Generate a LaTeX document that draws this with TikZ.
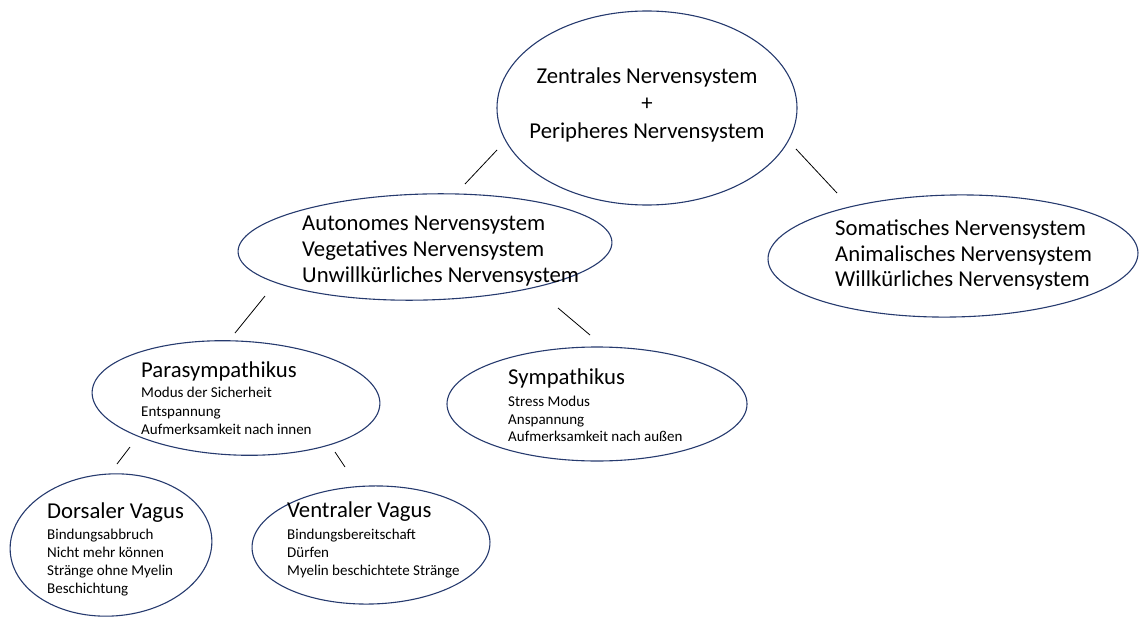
\documentclass[tikz,border=0pt]{standalone}
\usepackage{fontspec}
\setmainfont{Carlito}
\usetikzlibrary{shapes.geometric}
\definecolor{navy}{RGB}{38,58,110}
\begin{document}
\begin{tikzpicture}[x=1pt,y=-1pt,
  ell/.style={draw=navy, line width=1.1pt, ellipse, inner sep=0pt},
  bigtxt/.style={font=\fontsize{22.7}{25.5}\selectfont, align=left, inner sep=0pt, anchor=west},
  smalltxt/.style={font=\fontsize{15}{18}\selectfont, align=left, inner sep=0pt, anchor=west},
  conn/.style={draw=black, line width=0.8pt}]
\useasboundingbox (0,0) rectangle (1140,618);
% ellipses
\node[ell, minimum width=300, minimum height=194] (zns) at (647,108) {};
\node[ell, minimum width=374, minimum height=106, rotate=1.5] (ans) at (425,247) {};
\node[ell, minimum width=370, minimum height=122, rotate=1] (sns) at (953,256) {};
\node[ell, minimum width=288, minimum height=114, rotate=-2.5] (para) at (236,398) {};
\node[ell, minimum width=300, minimum height=114] (sym) at (597,404) {};
\node[ell, minimum width=202, minimum height=142, rotate=4] (dors) at (111,545) {};
\node[ell, minimum width=238, minimum height=118, rotate=1.5] (vent) at (371,545) {};
% texts
\node[font=\fontsize{22.7}{27.5}\selectfont, align=center, inner sep=0pt] (znst) at (647,104.5)
  {Zentrales Nervensystem\\+\\Peripheres Nervensystem};
\node[bigtxt, font=\fontsize{22.7}{26}\selectfont] (anst) at (302,251.5)
  {Autonomes Nervensystem\\Vegetatives Nervensystem\\Unwillkürliches Nervensystem};
\node[bigtxt] (snst) at (835,255)
  {Somatisches Nervensystem\\Animalisches Nervensystem\\Willkürliches Nervensystem};
\node[bigtxt] (parat) at (141,371) {Parasympathikus};
\node[smalltxt, font=\fontsize{15}{18.5}\selectfont] (parab) at (141,411)
  {Modus der Sicherheit\\Entspannung\\Aufmerksamkeit nach innen};
\node[bigtxt] (symt) at (508,378) {Sympathikus};
\node[smalltxt, font=\fontsize{15}{17.5}\selectfont] (symb) at (508,419)
  {Stress Modus\\Anspannung\\Aufmerksamkeit nach außen};
\node[bigtxt] (dorst) at (47,513) {Dorsaler Vagus};
\node[smalltxt] (dorsb) at (47,562.5)
  {Bindungsabbruch\\Nicht mehr können\\Stränge ohne Myelin\\Beschichtung};
\node[bigtxt] (ventt) at (287,512) {Ventraler Vagus};
\node[smalltxt] (ventb) at (287,553.5)
  {Bindungsbereitschaft\\Dürfen\\Myelin beschichtete Stränge};
% connector ends
\coordinate (c1a) at (497,150); \coordinate (c1b) at (465,184);
\coordinate (c2a) at (796,149); \coordinate (c2b) at (837,193);
\coordinate (c3a) at (265,296); \coordinate (c3b) at (235,333);
\coordinate (c4a) at (558,308); \coordinate (c4b) at (590,335);
\coordinate (c5a) at (130,447); \coordinate (c5b) at (117,464);
\coordinate (c6a) at (335,452); \coordinate (c6b) at (345,467);
\draw[conn] (c1a) -- (c1b);
\draw[conn] (c2a) -- (c2b);
\draw[conn] (c3a) -- (c3b);
\draw[conn] (c4a) -- (c4b);
\draw[conn] (c5a) -- (c5b);
\draw[conn] (c6a) -- (c6b);
\end{tikzpicture}
\end{document}
